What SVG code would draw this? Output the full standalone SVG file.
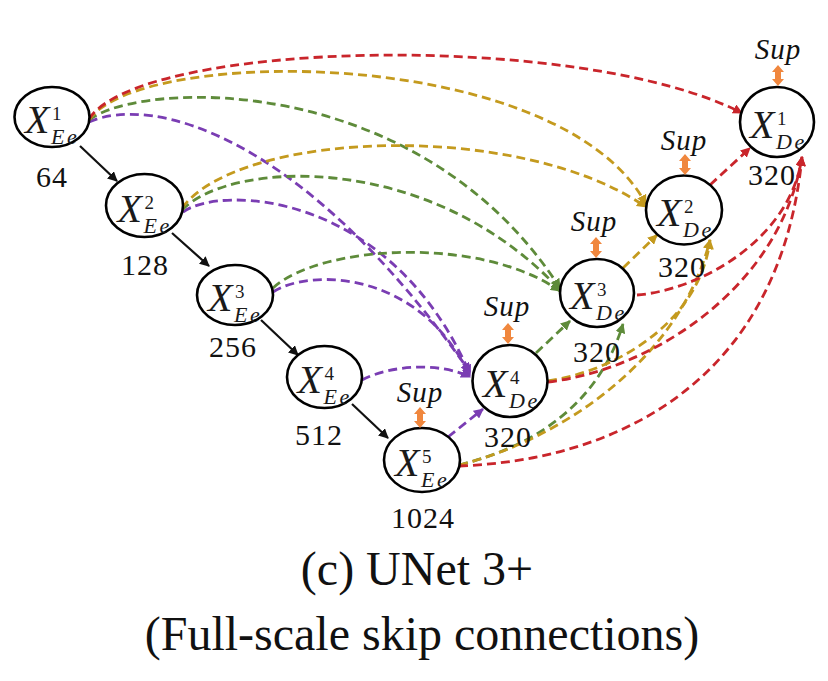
<svg xmlns="http://www.w3.org/2000/svg" width="828" height="681" viewBox="0 0 828 681">
<style>
.node ellipse{fill:#fff;stroke:#000;stroke-width:2.6}
.x{font-family:"Liberation Serif",serif;font-style:italic;font-size:40px;fill:#1a1a1a}
.sp{font-style:normal;font-size:19px}
.sb{font-size:22px;letter-spacing:2.5px}
.num{font-family:"Liberation Serif",serif;font-size:30px;fill:#111;text-anchor:middle;letter-spacing:1px}
.sup{font-family:"Liberation Serif",serif;font-style:italic;font-size:29px;fill:#111;text-anchor:middle;letter-spacing:1px}
.title{font-family:"Liberation Serif",serif;font-size:48px;fill:#111;text-anchor:middle}
.d{fill:none;stroke-width:2.8;stroke-dasharray:9 5}
.r{stroke:#C9252B;marker-end:url(#ar)}
.g{stroke:#C49A1E;marker-end:url(#ag)}
.n{stroke:#5E8B3A;marker-end:url(#an)}
.p{stroke:#7A3DB3;marker-end:url(#ap)}
.k{fill:none;stroke:#111;stroke-width:2.2;marker-end:url(#ak)}
.o{fill:#F0873E}
</style>
<defs>
<marker id="ar" markerUnits="userSpaceOnUse" markerWidth="10" markerHeight="10" viewBox="0 0 10 10" refX="9" refY="5" orient="auto"><path d="M0,0L10,5L0,10z" fill="#C9252B"/></marker>
<marker id="ag" markerUnits="userSpaceOnUse" markerWidth="10" markerHeight="10" viewBox="0 0 10 10" refX="9" refY="5" orient="auto"><path d="M0,0L10,5L0,10z" fill="#C49A1E"/></marker>
<marker id="an" markerUnits="userSpaceOnUse" markerWidth="10" markerHeight="10" viewBox="0 0 10 10" refX="9" refY="5" orient="auto"><path d="M0,0L10,5L0,10z" fill="#5E8B3A"/></marker>
<marker id="ap" markerUnits="userSpaceOnUse" markerWidth="10" markerHeight="10" viewBox="0 0 10 10" refX="9" refY="5" orient="auto"><path d="M0,0L10,5L0,10z" fill="#7A3DB3"/></marker>
<marker id="ak" markerUnits="userSpaceOnUse" markerWidth="10" markerHeight="10" viewBox="0 0 10 10" refX="9" refY="5" orient="auto"><path d="M0,0L10,5L0,10z" fill="#111"/></marker>
<path id="dbl" d="M0,0l6,7h-3v7h3l-6,7l-6,-7h3v-7h-3z"/>
</defs>

<g id="connectors">
<path class="k" d="M80,146L117,181"/>
<path class="k" d="M172,233L209,266"/>
<path class="k" d="M261,320L298,355"/>
<path class="k" d="M352,404L388,438"/>
<path class="d p" d="M89,122C150,95 300,130 470,372"/>
<path class="d p" d="M183,212C220,185 390,190 470,374"/>
<path class="d p" d="M273,292C310,268 420,270 470,376"/>
<path class="d p" d="M362,380C390,365 440,362 470,377"/>
<path class="d p" d="M448,437L483,409"/>
<path class="d n" d="M89,120C140,80 420,70 560,288"/>
<path class="d n" d="M182,210C230,160 430,150 560,290"/>
<path class="d n" d="M273,288C320,245 480,235 560,291"/>
<path class="d n" d="M536,353L570,321"/>
<path class="d n" d="M459,465C540,445 600,400 623,324"/>
<path class="d g" d="M89,120C140,45 560,45 646,204"/>
<path class="d g" d="M182,208C240,130 520,120 646,207"/>
<path class="d g" d="M623,268L657,235"/>
<path class="d g" d="M548,381C620,370 700,320 710,240"/>
<path class="d g" d="M459,465C560,440 680,360 710,240"/>
<path class="d r" d="M89,119C140,40 580,30 742,113"/>
<path class="d r" d="M710,185L750,148"/>
<path class="d r" d="M637,295C700,290 790,240 802,157"/>
<path class="d r" d="M548,382C650,370 780,290 802,157"/>
<path class="d r" d="M459,466C620,460 780,380 802,157"/>
</g>

<g id="E1" class="node"><ellipse cx="52" cy="117" rx="37.5" ry="30"/><text class="x" x="25" y="133">X<tspan class="sp" x="52" y="120">1</tspan><tspan class="sb" x="51" y="144">Ee</tspan></text><text class="num" x="52" y="187">64</text></g>
<g id="E2" class="node"><ellipse cx="144.5" cy="205.5" rx="38.5" ry="31.5"/><text class="x" x="117.5" y="221.5">X<tspan class="sp" x="144.5" y="208.5">2</tspan><tspan class="sb" x="143.5" y="232.5">Ee</tspan></text><text class="num" x="145" y="275">128</text></g>
<g id="E3" class="node"><ellipse cx="235" cy="295" rx="38" ry="30"/><text class="x" x="208" y="311">X<tspan class="sp" x="235" y="298">3</tspan><tspan class="sb" x="234" y="322">Ee</tspan></text><text class="num" x="233" y="357">256</text></g>
<g id="E4" class="node"><ellipse cx="324.5" cy="377" rx="37.5" ry="31"/><text class="x" x="297.5" y="393">X<tspan class="sp" x="324.5" y="380">4</tspan><tspan class="sb" x="323.5" y="404">Ee</tspan></text><text class="num" x="319" y="445">512</text></g>
<g id="E5" class="node"><ellipse cx="422" cy="460" rx="38" ry="32"/><text class="x" x="395" y="476">X<tspan class="sp" x="422" y="463">5</tspan><tspan class="sb" x="421" y="487">Ee</tspan></text><text class="num" x="423" y="528">1024</text><text class="sup" x="420" y="402">Sup</text><use href="#dbl" class="o" x="420" y="407"/></g>
<g id="D4" class="node"><ellipse cx="510" cy="381" rx="37.5" ry="36"/><text class="x" x="483" y="397">X<tspan class="sp" x="510" y="384">4</tspan><tspan class="sb" x="509" y="408">De</tspan></text><text class="num" x="508" y="447">320</text><text class="sup" x="507" y="316">Sup</text><use href="#dbl" class="o" x="508" y="323"/></g>
<g id="D3" class="node"><ellipse cx="597" cy="293" rx="37" ry="34"/><text class="x" x="570" y="309">X<tspan class="sp" x="597" y="296">3</tspan><tspan class="sb" x="596" y="320">De</tspan></text><text class="num" x="597" y="362">320</text><text class="sup" x="594" y="231">Sup</text><use href="#dbl" class="o" x="596" y="237"/></g>
<g id="D2" class="node"><ellipse cx="684" cy="210" rx="38" ry="34.5"/><text class="x" x="657" y="226">X<tspan class="sp" x="684" y="213">2</tspan><tspan class="sb" x="683" y="237">De</tspan></text><text class="num" x="682" y="277">320</text><text class="sup" x="684" y="150">Sup</text><use href="#dbl" class="o" x="685" y="154"/></g>
<g id="D1" class="node"><ellipse cx="777" cy="122" rx="37" ry="35"/><text class="x" x="750" y="138">X<tspan class="sp" x="777" y="125">1</tspan><tspan class="sb" x="776" y="149">De</tspan></text><text class="num" x="772" y="185">320</text><text class="sup" x="778" y="59">Sup</text><use href="#dbl" class="o" x="778" y="65"/></g>

<g id="caption">
<text class="title" x="417" y="585">(c) UNet 3+</text>
<text class="title" x="422" y="650">(Full-scale skip connections)</text>
</g>
</svg>
